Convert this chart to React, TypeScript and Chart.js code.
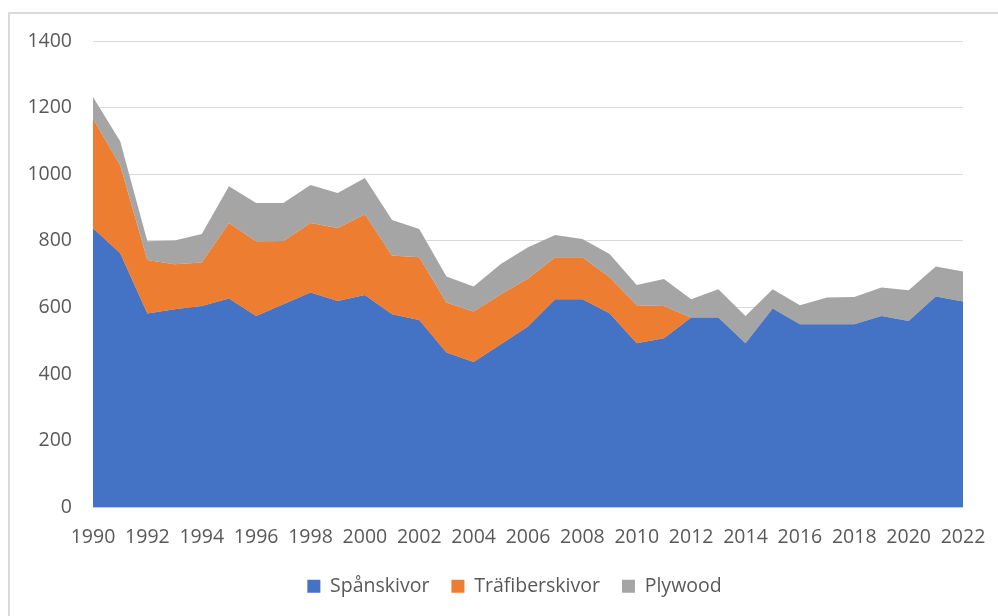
import React, { useEffect, useRef } from "react";
import { Chart, registerables } from "chart.js";

Chart.register(...registerables);

const years: string[] = [
  "1990", "1991", "1992", "1993", "1994", "1995", "1996", "1997", "1998", "1999",
  "2000", "2001", "2002", "2003", "2004", "2005", "2006", "2007", "2008", "2009",
  "2010", "2011", "2012", "2013", "2014", "2015", "2016", "2017", "2018", "2019",
  "2020", "2021", "2022",
];

const spanskivor: number[] = [
  838, 763, 582, 595, 605, 627, 575, 610, 645, 620,
  638, 580, 563, 465, 437, 490, 543, 625, 625, 583,
  493, 508, 570, 570, 493, 597, 550, 550, 550, 575,
  560, 633, 618,
];

const trafiberskivor: number[] = [
  329, 264, 161, 135, 130, 227, 224, 190, 209, 219,
  242, 176, 188, 150, 151, 150, 144, 126, 126, 109,
  114, 97, 0, 0, 0, 0, 0, 0, 0, 0,
  0, 0, 0,
];

const plywood: number[] = [
  65, 72, 56, 71, 86, 110, 115, 114, 114, 105,
  109, 107, 85, 78, 75, 91, 94, 67, 55, 69,
  61, 81, 55, 85, 82, 58, 57, 80, 82, 85,
  92, 90, 90,
];

const seriesNames: string[] = ["Spånskivor", "Träfiberskivor", "Plywood"];
const yTicks: number[] = [0, 200, 400, 600, 800, 1000, 1200, 1400];

const FONT = "'Open Sans', 'Liberation Sans', sans-serif";

const legendShift = {
  id: "legendShift",
  afterLayout(chart: any) {
    const lg = chart.legend;
    if (lg) {
      lg.left += 33;
      lg.right += 33;
    }
  },
};

export default function App() {
  const ref = useRef<HTMLCanvasElement | null>(null);

  useEffect(() => {
    if (!ref.current) return;
    const mk = (label: string, data: number[], color: string, fill: any) => ({
      label,
      data,
      backgroundColor: color,
      borderColor: color,
      borderWidth: 0,
      pointRadius: 0,
      pointHoverRadius: 0,
      tension: 0,
      fill,
    });
    const chart = new Chart(ref.current, {
      type: "line",
      data: {
        labels: years,
        datasets: [
          mk(seriesNames[0], spanskivor, "#4472C4", "origin"),
          mk(seriesNames[1], trafiberskivor, "#ED7D31", "-1"),
          mk(seriesNames[2], plywood, "#A5A5A5", "-1"),
        ],
      },
      plugins: [legendShift],
      options: {
        animation: false,
        responsive: false,
        devicePixelRatio: 1,
        layout: { padding: { left: 0, right: 35, top: 41, bottom: 10 } },
        plugins: {
          tooltip: { enabled: false },
          legend: {
            position: "bottom",
            labels: {
              boxWidth: 13,
              boxHeight: 13,
              padding: 22,
              color: "#595959",
              font: { family: FONT, size: 19.5 },
            },
          },
        },
        scales: {
          x: {
            stacked: true,
            offset: false,
            grid: { display: false, drawTicks: false },
            border: { display: false },
            ticks: {
              autoSkip: false,
              maxRotation: 0,
              minRotation: 0,
              padding: 18,
              color: "#595959",
              font: { family: FONT, size: 19.5 },
              callback: (_v: any, i: number) => (i % 2 === 0 ? years[i] : ""),
            },
            afterFit: (s: any) => {
              s.height = 47;
              s.paddingLeft = 0;
              s.paddingRight = 0;
            },
          },
          y: {
            stacked: true,
            min: 0,
            max: 1400,
            afterBuildTicks: (s: any) => {
              s.ticks = yTicks.map((v) => ({ value: v }));
            },
            grid: { color: "#D9D9D9", lineWidth: 1, drawTicks: false },
            border: { display: false },
            ticks: {
              padding: 21,
              color: "#595959",
              font: { family: FONT, size: 19.5 },
              callback: (v: any) => String(v),
            },
            afterFit: (s: any) => {
              s.width = 93;
            },
          },
        },
      },
    });
    return () => chart.destroy();
  }, []);

  return (
    <div style={{ position: "fixed", left: 0, top: 0, width: 998, height: 616, background: "#fff", overflow: "hidden" }}>
      <div
        style={{
          position: "absolute",
          left: 8,
          top: 12,
          width: 1100,
          height: 800,
          border: "2px solid #D9D9D9",
        }}
      />
      <canvas ref={ref} width={998} height={616} style={{ position: "absolute", left: 0, top: 0 }} />
    </div>
  );
}
